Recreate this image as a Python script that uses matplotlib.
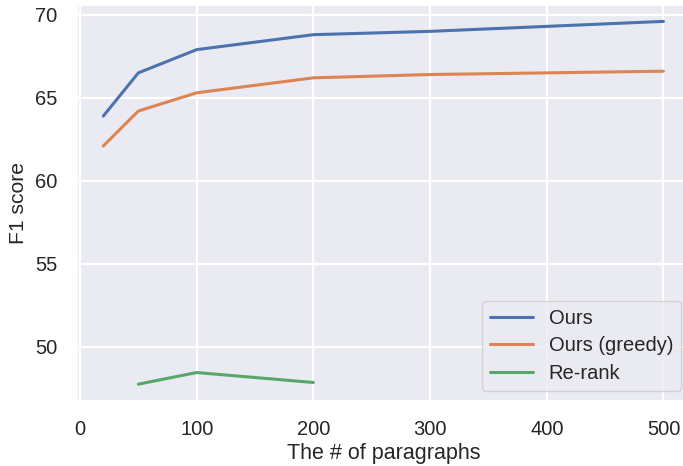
import matplotlib
matplotlib.use("Agg")
import matplotlib.pyplot as plt
import seaborn as sns

sns.set_theme(style="darkgrid")
plt.rcParams['font.family'] = ['Arial', 'Liberation Sans', 'DejaVu Sans']

para = [20, 50, 100, 200, 300, 400, 500]
ours = [63.9, 66.5, 67.9, 68.8, 69.0, 69.3, 69.6]
ours_greedy = [62.1, 64.2, 65.3, 66.2, 66.4, 66.5, 66.6]
rerank_para = [50, 100, 200]
rerank = [47.75, 48.45, 47.85]

fig = plt.figure(figsize=(6.83, 4.66), dpi=100)
# axes runs slightly past the right edge, as in the cropped original
ax = fig.add_axes([0.1127, 0.140, 0.8997, 0.849])
ax.plot(para, ours, label="Ours", lw=2.2)
ax.plot(para, ours_greedy, label="Ours (greedy)", lw=2.2)
ax.plot(rerank_para, rerank, label="Re-rank", lw=2.2)

ax.set_xlim(-2.6, 524)
ax.set_ylim(46.75, 70.58)
ax.set_xticks([0, 100, 200, 300, 400, 500])
ax.set_yticks([50, 55, 60, 65, 70])
ax.grid(lw=1.6)
ax.tick_params(axis='x', labelsize=14.5, colors='#262626', pad=8)
ax.tick_params(axis='y', labelsize=14.5, colors='#262626', pad=8)
ax.set_xlabel("The # of paragraphs", fontsize=15.5, color='#262626', labelpad=3)
ax.set_ylabel("F1 score", fontsize=15.2, color='#262626', labelpad=5)
ax.legend(loc="lower right", fontsize=14.5, handlelength=2.1, labelspacing=0.42)

fig.savefig("out.png", dpi=100)
